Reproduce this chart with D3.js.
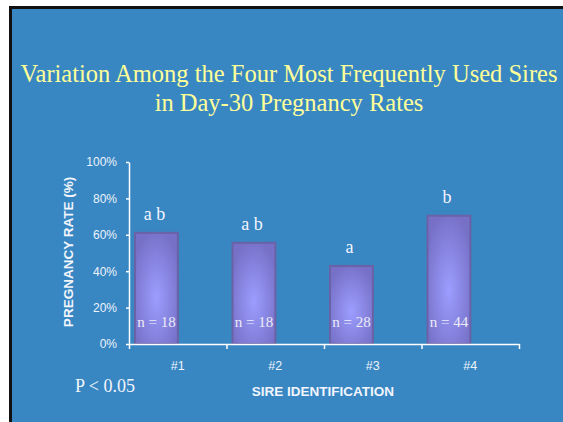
<!DOCTYPE html>
<html>
<head>
<meta charset="utf-8">
<script src="https://cdn.jsdelivr.net/npm/d3@7"></script>
<style>
  body { margin: 0; background: #ffffff; }
</style>
</head>
<body>
<div id="viz"></div>
<script>
// data
var sires = ["#1", "#2", "#3", "#4"];
var rates = [0.611, 0.556, 0.429, 0.705];
var counts = [18, 18, 28, 44];
var groups = ["a b", "a b", "a", "b"];
var yTicks = [0, 0.2, 0.4, 0.6, 0.8, 1];

var w = 563, h = 422;

var svg = d3.select("#viz")
            .append("svg")
            .attr("width", w)
            .attr("height", h);

// slide frame
svg.append("rect")
   .attr("x", 9).attr("y", 6)
   .attr("width", w - 9).attr("height", h - 6)
   .style("fill", "#111111");
svg.append("rect")
   .attr("x", 12).attr("y", 9)
   .attr("width", w - 12).attr("height", h - 9)
   .style("fill", "#3887c3");

// bar gradient
var grad = svg.append("defs")
              .append("radialGradient")
              .attr("id", "barFill")
              .attr("cx", "50%").attr("cy", "58%")
              .attr("r", "62%");
grad.append("stop").attr("offset", "0%").attr("stop-color", "#9c9dff");
grad.append("stop").attr("offset", "100%").attr("stop-color", "#7670c6");

// title
var title = svg.append("text")
               .attr("text-anchor", "middle")
               .style("font-family", "'Liberation Serif', 'Times New Roman', serif")
               .style("font-size", "24.5px")
               .style("fill", "#ffff99");
title.append("tspan").attr("x", 289).attr("y", 82)
     .text("Variation Among the Four Most Frequently Used Sires");
title.append("tspan").attr("x", 289).attr("y", 111)
     .text("in Day-30 Pregnancy Rates");

// scales
var x = d3.scaleBand()
          .domain(sires)
          .range([129, 519]);

var xEdge = d3.scaleLinear()
              .domain([0, sires.length])
              .range([129, 519]);

var y = d3.scaleLinear()
          .domain([0, 1])
          .range([344, 162]);

// bars
var barOff = 6, barW = x.bandwidth() * 0.44;

svg.selectAll("rect.bar")
   .data(sires)
   .enter()
   .append("rect")
   .attr("class", "bar")
   .attr("x", function(d){ return x(d) + barOff; })
   .attr("y", function(d, i){ return y(rates[i]); })
   .attr("width", barW)
   .attr("height", function(d, i){ return y(0) - y(rates[i]); })
   .style("fill", "url(#barFill)")
   .style("stroke", "#6962a6")
   .style("stroke-width", 2);

// n = labels inside bars
svg.selectAll("text.n")
   .data(sires)
   .enter()
   .append("text")
   .attr("class", "n")
   .attr("x", function(d){ return x(d) + barOff + barW / 2; })
   .attr("y", y(0) - 17)
   .attr("text-anchor", "middle")
   .style("font-family", "'Liberation Serif', 'Times New Roman', serif")
   .style("font-size", "15px")
   .style("fill", "#ececf8")
   .text(function(d, i){ return "n = " + counts[i]; });

// significance letters
svg.selectAll("text.grp")
   .data(sires)
   .enter()
   .append("text")
   .attr("class", "grp")
   .attr("x", function(d){ return x(d) + barOff + barW / 2 - 2; })
   .attr("y", function(d, i){ return y(rates[i]) - 13; })
   .attr("text-anchor", "middle")
   .style("font-family", "'Liberation Serif', 'Times New Roman', serif")
   .style("font-size", "18px")
   .style("fill", "#f4f4ff")
   .text(function(d, i){ return groups[i]; });

// y axis
var yAxis = svg.append("g")
               .attr("transform", "translate(129,0)")
               .call(d3.axisLeft(y)
                       .tickValues(yTicks)
                       .tickFormat(d3.format(".0%"))
                       .tickSizeInner(3)
                       .tickSizeOuter(0)
                       .tickPadding(9));

// x axis (boundary ticks only)
var xAxis = svg.append("g")
               .attr("transform", "translate(0,344)")
               .call(d3.axisBottom(xEdge)
                       .ticks(sires.length)
                       .tickFormat("")
                       .tickSizeInner(5)
                       .tickSizeOuter(0));

[yAxis, xAxis].forEach(function(g){
  g.selectAll("path, line").style("stroke", "#ffffff").style("stroke-width", 1.5);
  g.selectAll("text")
   .style("fill", "#eef3fa")
   .style("font-family", "'Liberation Sans', Arial, sans-serif")
   .style("font-size", "12px");
});

// category labels, centred in each band
svg.selectAll("text.cat")
   .data(sires)
   .enter()
   .append("text")
   .attr("class", "cat")
   .attr("x", function(d){ return x(d) + x.bandwidth() / 2; })
   .attr("y", 370)
   .attr("text-anchor", "middle")
   .style("font-family", "'Liberation Sans', Arial, sans-serif")
   .style("font-size", "12.5px")
   .style("fill", "#eef3fa")
   .text(function(d){ return d; });

// axis titles
svg.append("text")
   .attr("x", 323).attr("y", 396)
   .attr("text-anchor", "middle")
   .style("font-family", "'Liberation Sans', Arial, sans-serif")
   .style("font-size", "13.5px")
   .style("font-weight", "bold")
   .style("fill", "#f2f5fb")
   .text("SIRE IDENTIFICATION");

svg.append("text")
   .attr("transform", "translate(73,252) rotate(-90)")
   .attr("text-anchor", "middle")
   .style("font-family", "'Liberation Sans', Arial, sans-serif")
   .style("font-size", "13.5px")
   .style("font-weight", "bold")
   .style("fill", "#f2f5fb")
   .text("PREGNANCY RATE (%)");

// footnote
svg.append("text")
   .attr("x", 75).attr("y", 392)
   .style("font-family", "'Liberation Serif', 'Times New Roman', serif")
   .style("font-size", "18px")
   .style("fill", "#f2f5fb")
   .text("P < 0.05");
</script>
</body>
</html>
